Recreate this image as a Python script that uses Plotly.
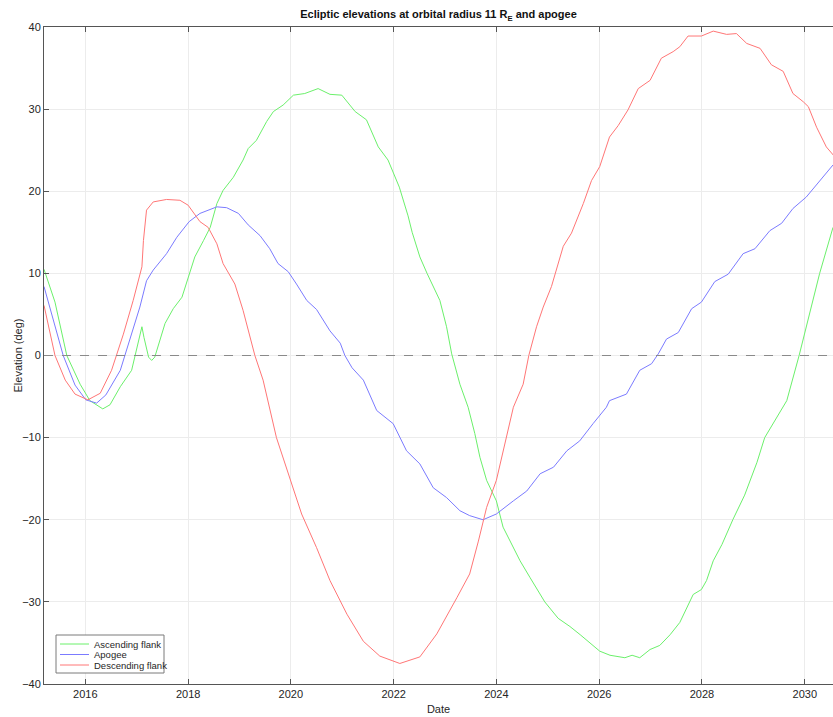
import pandas as pd
import plotly.graph_objects as go

# ---- data (decimal years, elevation in degrees) ----
asc_years = [2015.196, 2015.41, 2015.64, 2015.90, 2016.09, 2016.34, 2016.48, 2016.68, 2016.90,
             2017.10, 2017.14, 2017.23, 2017.29, 2017.35, 2017.55, 2017.71, 2017.88, 2018.04,
             2018.13, 2018.30, 2018.43, 2018.56, 2018.68, 2018.88, 2019.07, 2019.17, 2019.33,
             2019.53, 2019.66, 2019.85, 2020.05, 2020.27, 2020.53, 2020.76, 2020.99, 2021.25,
             2021.47, 2021.70, 2021.89, 2022.11, 2022.28, 2022.36, 2022.51, 2022.65, 2022.90,
             2023.03, 2023.13, 2023.29, 2023.45, 2023.58, 2023.68, 2023.81, 2024.00, 2024.13,
             2024.36, 2024.46, 2024.65, 2024.85, 2024.94, 2025.20, 2025.43, 2025.63, 2025.82,
             2026.01, 2026.21, 2026.50, 2026.64, 2026.79, 2026.99, 2027.18, 2027.38, 2027.57,
             2027.83, 2027.99, 2028.09, 2028.22, 2028.39, 2028.60, 2028.83, 2029.07, 2029.22,
             2029.65, 2029.89, 2030.16, 2030.29, 2030.55]
asc_elev = [10.5, 6.5, 0.0, -3.5, -5.5, -6.5, -6.0, -3.8, -1.8,
            3.5, 2.2, -0.2, -0.6, -0.2, 3.9, 5.7, 7.1, 10.4,
            12.0, 14.0, 15.6, 18.5, 20.1, 21.7, 23.8, 25.2, 26.2,
            28.5, 29.7, 30.5, 31.7, 31.9, 32.5, 31.8, 31.7, 29.7,
            28.7, 25.4, 23.8, 20.5, 17.0, 15.0, 12.0, 10.0, 6.7,
            3.5, 0.2, -3.5, -6.3, -9.5, -12.4, -15.2, -17.7, -20.9,
            -23.8, -25.0, -27.0, -29.0, -30.0, -32.0, -33.0, -34.0, -35.0,
            -36.0, -36.5, -36.8, -36.5, -36.8, -35.8, -35.3, -34.0, -32.5,
            -29.1, -28.5, -27.4, -25.0, -23.0, -20.0, -17.0, -13.0, -10.0,
            -5.5, 0.0, 6.7, 10.0, 15.6]

apo_years = [2015.196, 2015.35, 2015.57, 2015.80, 2016.01, 2016.22, 2016.40, 2016.68, 2016.87,
             2017.06, 2017.19, 2017.32, 2017.58, 2017.78, 2018.02, 2018.23, 2018.56,
             2018.75, 2018.98, 2019.17, 2019.40, 2019.59, 2019.75, 2019.95, 2020.11, 2020.31,
             2020.50, 2020.76, 2020.96, 2021.05, 2021.19, 2021.41, 2021.67, 2021.99, 2022.25,
             2022.51, 2022.77, 2023.03, 2023.29, 2023.48, 2023.74, 2024.00, 2024.33, 2024.59,
             2024.85, 2025.11, 2025.37, 2025.62, 2025.88, 2026.14, 2026.20, 2026.53, 2026.79,
             2027.02, 2027.15, 2027.31, 2027.54, 2027.80, 2027.99, 2028.25, 2028.51, 2028.80,
             2029.03, 2029.32, 2029.55, 2029.77, 2030.03, 2030.29, 2030.55]
apo_elev = [8.4, 4.8, 0.0, -3.6, -5.4, -5.8, -4.8, -1.8, 2.2,
            5.9, 9.1, 10.4, 12.4, 14.4, 16.3, 17.3, 18.1,
            18.0, 17.3, 15.9, 14.6, 13.0, 11.2, 10.2, 8.7, 6.7,
            5.6, 3.0, 1.5, 0.0, -1.5, -3.0, -6.7, -8.3, -11.6,
            -13.2, -16.1, -17.3, -18.9, -19.5, -20.0, -19.3, -17.7, -16.5,
            -14.4, -13.6, -11.6, -10.4, -8.3, -6.3, -5.5, -4.7, -1.8,
            -1.0, 0.2, 2.0, 2.8, 5.7, 6.5, 9.0, 9.9, 12.4,
            13.0, 15.2, 16.1, 17.9, 19.3, 21.3, 23.2]

desc_years = [2015.196, 2015.41, 2015.61, 2015.80, 2016.05, 2016.29, 2016.51, 2016.74, 2016.93,
              2017.10, 2017.13, 2017.19, 2017.32, 2017.58, 2017.84, 2018.00, 2018.23, 2018.39,
              2018.56, 2018.68, 2018.91, 2019.07, 2019.30, 2019.46, 2019.72, 2019.98, 2020.21,
              2020.50, 2020.76, 2021.09, 2021.41, 2021.73, 2022.12, 2022.51, 2022.84, 2023.23,
              2023.48, 2023.65, 2023.81, 2024.00, 2024.17, 2024.33, 2024.52, 2024.63, 2024.78,
              2024.91, 2025.07, 2025.30, 2025.46, 2025.69, 2025.85, 2026.01, 2026.20, 2026.37,
              2026.56, 2026.76, 2026.99, 2027.21, 2027.44, 2027.57, 2027.73, 2027.99, 2028.22,
              2028.48, 2028.67, 2028.87, 2029.13, 2029.35, 2029.58, 2029.77, 2029.97, 2030.07,
              2030.23, 2030.42, 2030.57]
desc_elev = [6.1, 0.0, -3.0, -4.7, -5.4, -4.6, -1.8, 2.6, 6.7,
             10.8, 14.0, 17.7, 18.7, 19.0, 18.9, 18.3, 16.3, 15.6,
             13.6, 11.2, 8.7, 5.5, 0.0, -3.0, -10.0, -14.8, -19.3,
             -23.4, -27.4, -31.5, -34.8, -36.6, -37.5, -36.7, -33.9, -29.5,
             -26.6, -22.6, -18.5, -15.2, -10.4, -6.3, -3.5, 0.0, 3.5,
             5.9, 8.4, 13.3, 14.9, 18.5, 21.3, 23.0, 26.6, 28.0,
             29.9, 32.5, 33.5, 36.2, 37.0, 37.6, 38.9, 38.9, 39.5,
             39.1, 39.2, 38.0, 37.4, 35.4, 34.6, 31.9, 30.9, 30.3,
             27.8, 25.4, 24.3]

series_names = ["Ascending flank", "Apogee", "Descending flank"]
series_colors = ["#6bf06b", "#7b7bff", "#ff7676"]
y_ticks = [-40, -30, -20, -10, 0, 10, 20, 30, 40]
x_range_years = [2015.196, 2030.55]


def to_dates(years):
    out = []
    for y in years:
        yi = int(y)
        start = pd.Timestamp(year=yi, month=1, day=1)
        end = pd.Timestamp(year=yi + 1, month=1, day=1)
        out.append(start + (end - start) * (y - yi))
    return out


W, H = 833, 717
ML, MR, MT, MB = 44, 0, 27, 33
PW, PH = W - ML - MR, H - MT - MB


def px_x(px):  # pixel -> paper x
    return (px - ML) / PW


def px_y(py):  # pixel -> paper y
    return (H - MB - py) / PH


fig = go.Figure()
for name, color, xs, ys in zip(series_names, series_colors,
                               [asc_years, apo_years, desc_years],
                               [asc_elev, apo_elev, desc_elev]):
    fig.add_trace(go.Scatter(x=to_dates(xs), y=ys, mode="lines", name=name,
                             line=dict(color=color, width=1), showlegend=False))

font_family = "Liberation Sans, Arial, Helvetica, sans-serif"
axis_color = "#555555"
grid_color = "#ececec"
text_color = "#262626"

shapes = [dict(type="line", xref="paper", yref="y", x0=0, x1=1, y0=0, y1=0,
               line=dict(color="#8a8a8a", width=1, dash="dash"), layer="above")]
annotations = []

# legend box (drawn manually to match compact MATLAB-style legend)
shapes.append(dict(type="rect", xref="paper", yref="paper",
                   x0=px_x(56), x1=px_x(164), y0=px_y(673), y1=px_y(635),
                   line=dict(color="#7a7a7a", width=1), fillcolor="white", layer="above"))
for i, (name, color) in enumerate(zip(series_names, series_colors)):
    yy = px_y(644 + i * 10.5)
    shapes.append(dict(type="line", xref="paper", yref="paper",
                       x0=px_x(60), x1=px_x(89), y0=yy, y1=yy,
                       line=dict(color=color, width=1), layer="above"))
    annotations.append(dict(x=px_x(92), y=yy, xref="paper", yref="paper",
                            text=name, showarrow=False, xanchor="left", yanchor="middle",
                            font=dict(size=9.5, color=text_color)))

# y-axis title
annotations.append(dict(x=px_x(17), y=0.5, xref="paper", yref="paper",
                        text="Elevation (deg)", textangle=-90, showarrow=False,
                        xanchor="center", yanchor="middle",
                        font=dict(size=11, color=text_color)))

rng = to_dates(x_range_years)
fig.update_layout(
    width=W, height=H,
    margin=dict(l=ML, r=MR, t=MT, b=MB, autoexpand=False),
    paper_bgcolor="white", plot_bgcolor="white",
    font=dict(family=font_family, size=11, color=text_color),
    title=dict(text="<b>Ecliptic elevations at orbital radius 11 R<sub>E</sub> and apogee</b>",
               x=0.5, xref="paper", xanchor="center", y=0.985, yanchor="top",
               font=dict(size=11, color="#111111")),
    showlegend=False,
    shapes=shapes,
    annotations=annotations,
    xaxis=dict(type="date", range=rng, tick0="2016-01-01", dtick="M24", tickformat="%Y",
               showgrid=True, gridcolor=grid_color, gridwidth=1, automargin=False,
               showline=True, linecolor=axis_color, linewidth=1, mirror="ticks",
               ticks="inside", ticklen=5, tickcolor=axis_color, zeroline=False,
               title=dict(text="Date", font=dict(size=11), standoff=6)),
    yaxis=dict(range=[-40, 40], tickvals=y_ticks, automargin=False,
               showgrid=True, gridcolor=grid_color, gridwidth=1,
               showline=True, linecolor=axis_color, linewidth=1, mirror=False,
               ticks="inside", ticklen=5, tickcolor=axis_color, zeroline=False),
)

fig.write_html("out.html", config={"displayModeBar": False},
               post_script="document.body.style.margin='0';")
